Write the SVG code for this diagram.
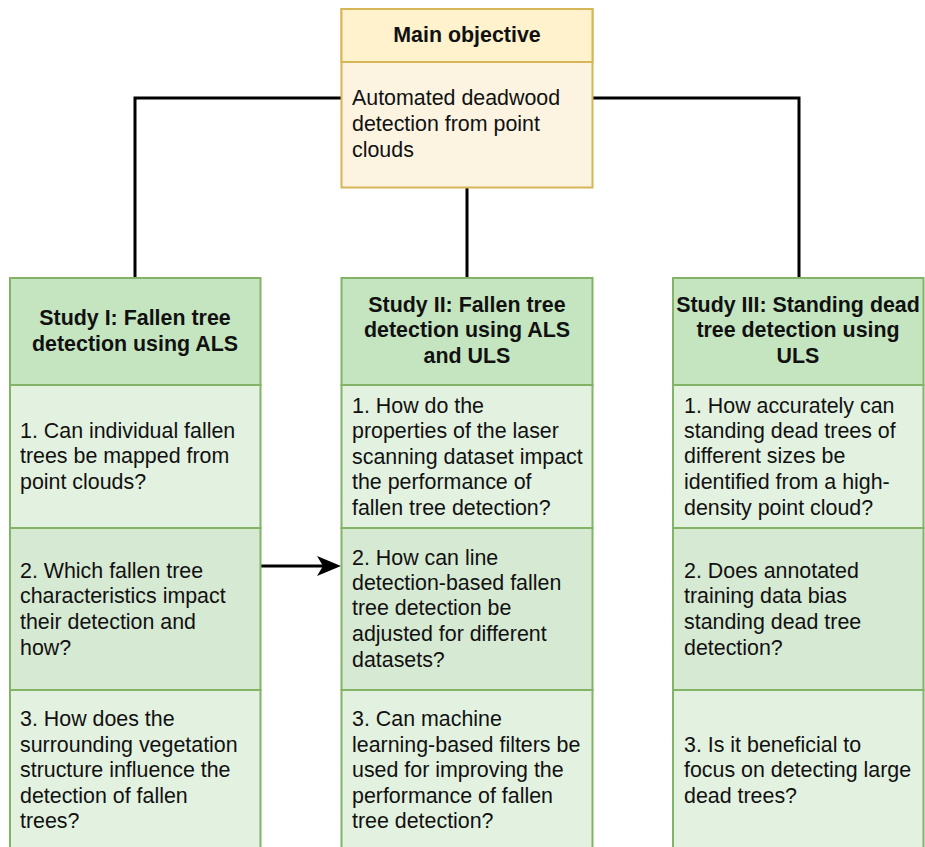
<svg xmlns="http://www.w3.org/2000/svg" width="925" height="847" viewBox="0 0 925 847">
<defs>
<style>
.t{font-family:"Liberation Sans",Arial,sans-serif;font-size:21.4px;fill:#111}
.b{font-weight:bold;text-anchor:middle}
.hy{fill:#fff2cc;stroke:#d6b656;stroke-width:2}
.by{fill:#fcf4e1;stroke:#d6b656;stroke-width:2}
.hg{fill:#c5e5c0;stroke:#82b366;stroke-width:2}
.l{fill:#e3f1e0;stroke:#82b366;stroke-width:2}
.d{fill:#d6e9d3;stroke:#82b366;stroke-width:2}
.c{fill:none;stroke:#000;stroke-width:3}
</style>
</defs>
<g id="connectors">
<polyline class="c" points="341,98 135,98 135,278"/>
<polyline class="c" points="592,98 799,98 799,278"/>
<line class="c" x1="467" y1="188" x2="467" y2="278"/>
<line class="c" x1="261" y1="566" x2="327" y2="566"/>
<path d="M341,566 L317,556 L323,566 L317,576 Z" fill="#000"/>
</g>
<g id="main">
<rect class="by" x="341.5" y="9" width="251" height="178.5"/>
<rect class="hy" x="341.5" y="9" width="251" height="53"/>
<text class="t b" x="467" y="42">Main objective</text>
<text class="t" x="352"><tspan x="352" y="105">Automated deadwood</tspan><tspan x="352" y="131">detection from point</tspan><tspan x="352" y="157">clouds</tspan></text>
</g>
<g id="study1">
<rect class="hg" x="10" y="278" width="250.5" height="107"/>
<rect class="l" x="10" y="385" width="250.5" height="143"/>
<rect class="d" x="10" y="528" width="250.5" height="162"/>
<rect class="l" x="10" y="690" width="250.5" height="160"/>
<text class="t b" x="135"><tspan x="135" y="325">Study I: Fallen tree</tspan><tspan x="135" y="351">detection using ALS</tspan></text>
<text class="t"><tspan x="20" y="438">1. Can individual fallen</tspan><tspan x="20" y="463">trees be mapped from</tspan><tspan x="20" y="489">point clouds?</tspan></text>
<text class="t"><tspan x="20" y="578">2. Which fallen tree</tspan><tspan x="20" y="603">characteristics impact</tspan><tspan x="20" y="629">their detection and</tspan><tspan x="20" y="655">how?</tspan></text>
<text class="t"><tspan x="20" y="726">3. How does the</tspan><tspan x="20" y="752">surrounding vegetation</tspan><tspan x="20" y="777">structure influence the</tspan><tspan x="20" y="803">detection of fallen</tspan><tspan x="20" y="828">trees?</tspan></text>
</g>
<g id="study2">
<rect class="hg" x="341.5" y="278" width="251" height="107"/>
<rect class="l" x="341.5" y="385" width="251" height="143"/>
<rect class="d" x="341.5" y="528" width="251" height="162"/>
<rect class="l" x="341.5" y="690" width="251" height="160"/>
<text class="t b" x="467"><tspan x="467" y="312">Study II: Fallen tree</tspan><tspan x="467" y="337">detection using ALS</tspan><tspan x="467" y="363">and ULS</tspan></text>
<text class="t"><tspan x="352" y="413">1. How do the</tspan><tspan x="352" y="438">properties of the laser</tspan><tspan x="352" y="464">scanning dataset impact</tspan><tspan x="352" y="489">the performance of</tspan><tspan x="352" y="515">fallen tree detection?</tspan></text>
<text class="t"><tspan x="352" y="565">2. How can line</tspan><tspan x="352" y="590">detection-based fallen</tspan><tspan x="352" y="615">tree detection be</tspan><tspan x="352" y="641">adjusted for different</tspan><tspan x="352" y="667">datasets?</tspan></text>
<text class="t"><tspan x="352" y="726">3. Can machine</tspan><tspan x="352" y="752">learning-based filters be</tspan><tspan x="352" y="777">used for improving the</tspan><tspan x="352" y="803">performance of fallen</tspan><tspan x="352" y="828">tree detection?</tspan></text>
</g>
<g id="study3">
<rect class="hg" x="673" y="278" width="250.5" height="107"/>
<rect class="l" x="673" y="385" width="250.5" height="143"/>
<rect class="d" x="673" y="528" width="250.5" height="162"/>
<rect class="l" x="673" y="690" width="250.5" height="160"/>
<text class="t b" x="798"><tspan x="798" y="312">Study III: Standing dead</tspan><tspan x="798" y="337">tree detection using</tspan><tspan x="798" y="363">ULS</tspan></text>
<text class="t"><tspan x="684" y="413">1. How accurately can</tspan><tspan x="684" y="438">standing dead trees of</tspan><tspan x="684" y="463">different sizes be</tspan><tspan x="684" y="489">identified from a high-</tspan><tspan x="684" y="515">density point cloud?</tspan></text>
<text class="t"><tspan x="684" y="578">2. Does annotated</tspan><tspan x="684" y="603">training data bias</tspan><tspan x="684" y="629">standing dead tree</tspan><tspan x="684" y="655">detection?</tspan></text>
<text class="t"><tspan x="684" y="752">3. Is it beneficial to</tspan><tspan x="684" y="777">focus on detecting large</tspan><tspan x="684" y="803">dead trees?</tspan></text>
</g>
</svg>
